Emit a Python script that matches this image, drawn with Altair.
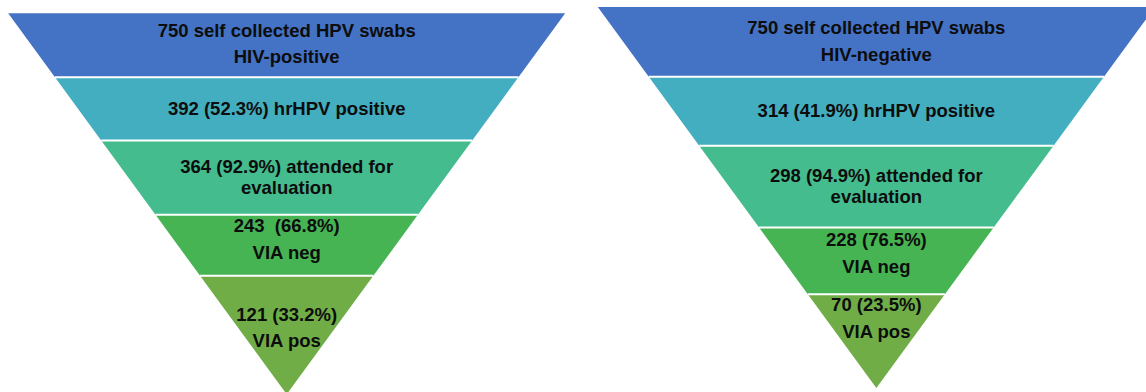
import altair as alt
import pandas as pd

# ---- data ----
stage_names = ["Swabs", "hrHPV positive", "Attended", "VIA neg", "VIA pos"]
colors = ["#4472C4", "#43AEC0", "#45BC8E", "#46B452", "#70AD47"]

counts_pos = [750, 392, 364, 243, 121]
pct_pos = [None, 52.3, 92.9, 66.8, 33.2]
counts_neg = [750, 314, 298, 228, 70]
pct_neg = [None, 41.9, 94.9, 76.5, 23.5]

labels_pos = [
    ["750 self collected HPV swabs", "HIV-positive"],
    ["392 (52.3%) hrHPV positive"],
    ["364 (92.9%) attended for", "evaluation"],
    ["243\u00a0\u00a0(66.8%)", "VIA neg"],
    ["121 (33.2%)", "VIA pos"],
]
labels_neg = [
    ["750 self collected HPV swabs", "HIV-negative"],
    ["314 (41.9%) hrHPV positive"],
    ["298 (94.9%) attended for", "evaluation"],
    ["228 (76.5%)", "VIA neg"],
    ["70 (23.5%)", "VIA pos"],
]

# band boundaries as depth (% of funnel height)
bounds_pos = [0, 16.8, 33.4, 52.9, 68.9, 100]
bounds_neg = [0, 18.3, 36.4, 57.9, 75.4, 100]

# text baselines (depth units)
text_depth_pos = [[6.14, 13.12], [26.7], [41.9, 47.3], [57.4, 64.6], [80.7, 87.7]]
text_depth_neg = [[7.17, 14.17], [28.95], [46.0, 51.4], [62.65, 69.9], [79.8, 86.96]]

# layout (scale domains per panel)
x_dom_pos = [-1.0294, 1.028]
x_dom_neg = [-1.089, 0.968]
y_dom_pos = [-3.49, 99.4]
y_dom_neg = [-1.84, 101.05]


def half_width(d):
    return 1 - d / 100.0


def panel(bounds, labels, tdepth, xdom, ydom):
    shape_rows, rule_rows, text_rows = [], [], []
    for i, name in enumerate(stage_names):
        for d in (bounds[i], bounds[i + 1]):
            hw = half_width(d)
            shape_rows.append({"stage": name, "depth": d, "left": -hw, "right": hw})
        if i > 0:
            hw = half_width(bounds[i])
            rule_rows.append({"depth": bounds[i], "left": -hw, "right": hw})
        for line, td in zip(labels[i], tdepth[i]):
            text_rows.append({"depth": td, "x": 0.0, "text": line})

    xs = alt.Scale(domain=xdom, nice=False, zero=False)
    ys = alt.Scale(domain=ydom, nice=False, zero=False, reverse=True)

    area = alt.Chart(pd.DataFrame(shape_rows)).mark_area(
        orient="horizontal", clip=True, opacity=1
    ).encode(
        y=alt.Y("depth:Q", scale=ys, axis=None),
        x=alt.X("left:Q", scale=xs, axis=None),
        x2="right:Q",
        color=alt.Color("stage:N", scale=alt.Scale(domain=stage_names, range=colors), legend=None),
        detail="stage:N",
    )
    rules = alt.Chart(pd.DataFrame(rule_rows)).mark_rule(
        color="white", strokeWidth=2, clip=True
    ).encode(
        y=alt.Y("depth:Q", scale=ys, axis=None),
        x=alt.X("left:Q", scale=xs, axis=None),
        x2="right:Q",
    )
    text = alt.Chart(pd.DataFrame(text_rows)).mark_text(
        font="Liberation Sans", fontWeight="bold", fontSize=18.5,
        color="#0d0d0d", baseline="alphabetic", align="center"
    ).encode(
        y=alt.Y("depth:Q", scale=ys, axis=None),
        x=alt.X("x:Q", scale=xs, axis=None),
        text="text:N",
    )
    return alt.layer(area, rules, text).properties(width=573, height=392)


left = panel(bounds_pos, labels_pos, text_depth_pos, x_dom_pos, y_dom_pos)
right = panel(bounds_neg, labels_neg, text_depth_neg, x_dom_neg, y_dom_neg)

chart = alt.hconcat(left, right, spacing=0).properties(
    padding=0, background="white"
).configure_view(stroke=None)

chart.save("out.html", embed_options={"renderer": "svg", "actions": False})
